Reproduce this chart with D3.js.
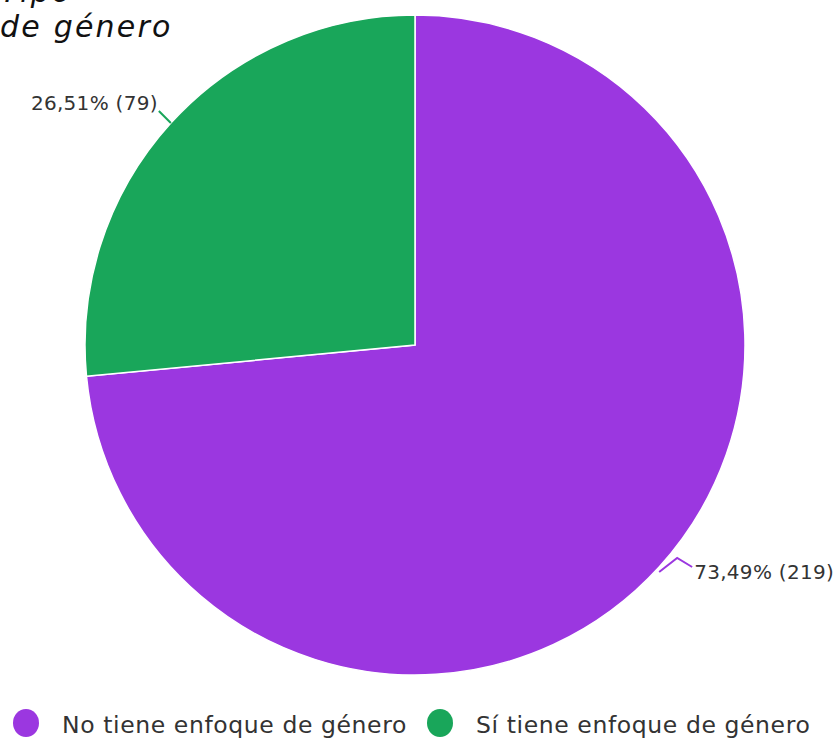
<!DOCTYPE html>
<html><head><meta charset="utf-8">
<script src="https://cdn.jsdelivr.net/npm/d3@7"></script>
<style>body{margin:0;background:#fff}svg{display:block}</style>
</head><body>
<script>
const categories = ["No tiene enfoque de género", "Sí tiene enfoque de género"];
const counts = [219, 79];
const percentLabels = ["73,49%", "26,51%"];
const colors = ["#9B37E0", "#19A65A"];
const titleLines = ["Tipo", "de género"];

const W = 835, H = 738;
const svg = d3.select("body").append("svg").attr("width", W).attr("height", H);
const font = "DejaVu Sans";

// title (first line partly out of frame, as in the reference)
svg.append("text").attr("x", 0).attr("y", 2).attr("font-family", font).attr("font-style", "italic")
  .attr("font-size", 30).attr("letter-spacing", 2).attr("fill", "#111").text(titleLines[0]);
svg.append("text").attr("x", 0).attr("y", 37).attr("font-family", font).attr("font-style", "italic")
  .attr("font-size", 30).attr("letter-spacing", 2.2).attr("fill", "#111").text(titleLines[1]);

const cx = 415, cy = 345, R = 330;
const data = categories.map((c, i) => ({ c, v: counts[i], p: percentLabels[i], col: colors[i] }));
const pie = d3.pie().value(d => d.v).sort(null);
const arcs = pie(data);
const arc = d3.arc().innerRadius(0).outerRadius(R);
const g = svg.append("g").attr("transform", `translate(${cx},${cy})`);
g.selectAll("path").data(arcs).join("path")
  .attr("d", arc).attr("fill", d => d.data.col)
  .attr("stroke", "#fff").attr("stroke-width", 1.5);

const mid = d => (d.startAngle + d.endAngle) / 2;
const edge = (a, r) => [Math.sin(a) * r, -Math.cos(a) * r];
{
  const d = arcs[0], a = mid(d);
  const [x0, y0] = edge(a, R);
  const pts = [[x0, y0 + 5], [x0 + 18, y0 - 9], [x0 + 33, y0]];
  g.append("path").attr("d", d3.line()(pts)).attr("fill", "none").attr("stroke", d.data.col).attr("stroke-width", 2);
  g.append("text").attr("x", x0 + 35).attr("y", y0 + 12).attr("font-family", font)
    .attr("font-size", 20).attr("letter-spacing", 0.3).attr("fill", "#333").text(`${d.data.p} (${d.data.v})`);
}
{
  const d = arcs[1], a = mid(d);
  const [x0, y0] = edge(a, R);
  const pts = [[x0, y0], [x0 - 12, y0 - 12]];
  g.append("path").attr("d", d3.line()(pts)).attr("fill", "none").attr("stroke", d.data.col).attr("stroke-width", 2);
  g.append("text").attr("x", x0 - 13).attr("y", y0 - 13).attr("text-anchor", "end").attr("font-family", font)
    .attr("font-size", 20).attr("letter-spacing", 0.3).attr("fill", "#333").text(`${d.data.p} (${d.data.v})`);
}

// legend
const legX = [26, 440];
const leg = svg.append("g");
data.forEach((d, i) => {
  leg.append("ellipse").attr("cx", legX[i]).attr("cy", 723).attr("rx", 13).attr("ry", 14).attr("fill", d.col);
  leg.append("text").attr("x", legX[i] + 36).attr("y", 733).attr("font-family", font)
    .attr("font-size", 23.5).attr("letter-spacing", 0.6).attr("fill", "#333").text(d.c);
});
</script>
</body></html>
